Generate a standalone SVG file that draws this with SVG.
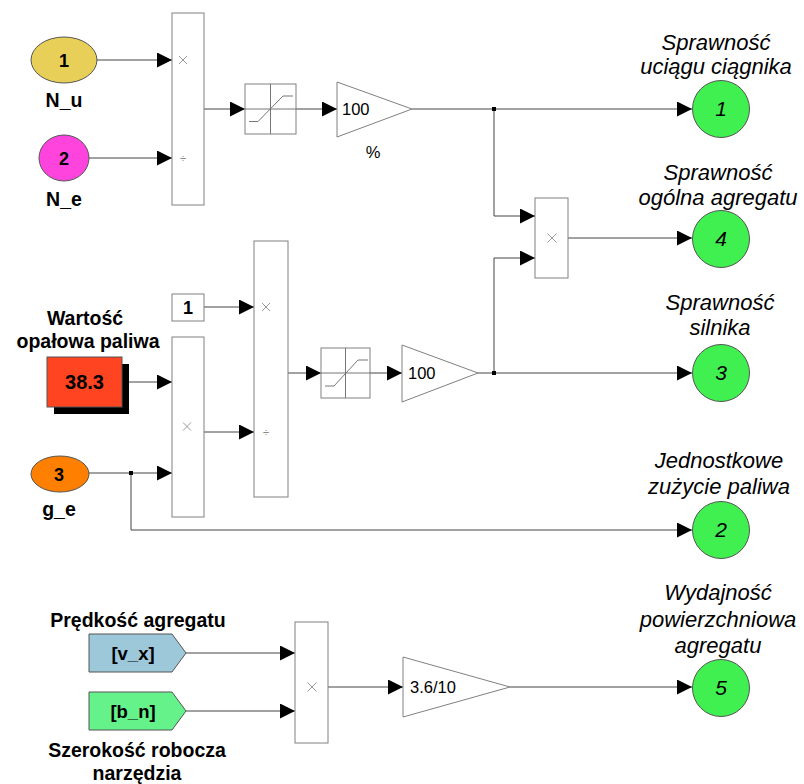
<svg xmlns="http://www.w3.org/2000/svg" width="804" height="784" viewBox="0 0 804 784">
  <defs>
    <marker id="arr" viewBox="0 0 15 15" refX="15" refY="7.5" markerWidth="15" markerHeight="15" orient="auto" markerUnits="userSpaceOnUse">
      <path d="M0,0 L15,7.5 L0,15 z" fill="#000"/>
    </marker>
    <style>
      .blk { fill: #fff; stroke: #808080; stroke-width: 1; }
      .port { stroke: #555; stroke-width: 1; }
      .wire { fill: none; stroke: #444; stroke-width: 1; }
      .glyph { fill: none; stroke: #999; stroke-width: 1; }
      .sat { fill: none; stroke: #777; stroke-width: 1; }
      .lblB { font-family: "Liberation Sans", Arial, sans-serif; font-weight: bold; font-size: 19.5px; fill: #000; text-anchor: middle; }
      .num { font-family: "Liberation Sans", Arial, sans-serif; font-weight: bold; font-size: 18px; fill: #000; text-anchor: middle; }
      .out { font-family: "Liberation Sans", Arial, sans-serif; font-style: italic; font-size: 22px; fill: #000; text-anchor: middle; }
      .outn { font-family: "Liberation Sans", Arial, sans-serif; font-style: italic; font-size: 21px; fill: #000; text-anchor: middle; }
      .gain { font-family: "Liberation Sans", Arial, sans-serif; font-size: 16.5px; fill: #000; }
      .div { font-family: "Liberation Sans", Arial, sans-serif; font-size: 11px; fill: #888; text-anchor: middle; }
      .outport { fill: #40F050; stroke: #555; stroke-width: 1; }
    </style>
  </defs>

  <!-- connectors -->
  <g id="connectors">
    <line class="wire" x1="97" y1="60" x2="172" y2="60" marker-end="url(#arr)"/>
    <line class="wire" x1="89" y1="158" x2="172" y2="158" marker-end="url(#arr)"/>
    <line class="wire" x1="204" y1="109" x2="245" y2="109" marker-end="url(#arr)"/>
    <line class="wire" x1="296" y1="109" x2="337" y2="109" marker-end="url(#arr)"/>
    <line class="wire" x1="412" y1="109" x2="692" y2="109" marker-end="url(#arr)"/>
    <polyline class="wire" points="494,109 494,216 535,216" marker-end="url(#arr)"/>
    <polyline class="wire" points="494,373 494,258 535,258" marker-end="url(#arr)"/>
    <line class="wire" x1="568" y1="238" x2="692" y2="238" marker-end="url(#arr)"/>
    <line class="wire" x1="204" y1="307" x2="254" y2="307" marker-end="url(#arr)"/>
    <line class="wire" x1="122" y1="382" x2="172" y2="382" marker-end="url(#arr)"/>
    <line class="wire" x1="89" y1="473" x2="172" y2="473" marker-end="url(#arr)"/>
    <polyline class="wire" points="131,473 131,530 692,530" marker-end="url(#arr)"/>
    <line class="wire" x1="204" y1="432" x2="254" y2="432" marker-end="url(#arr)"/>
    <line class="wire" x1="288" y1="373" x2="321" y2="373" marker-end="url(#arr)"/>
    <line class="wire" x1="370" y1="373" x2="402" y2="373" marker-end="url(#arr)"/>
    <line class="wire" x1="478" y1="373" x2="692" y2="373" marker-end="url(#arr)"/>
    <line class="wire" x1="186" y1="653" x2="295" y2="653" marker-end="url(#arr)"/>
    <line class="wire" x1="186" y1="711" x2="295" y2="711" marker-end="url(#arr)"/>
    <line class="wire" x1="328" y1="687" x2="403" y2="687" marker-end="url(#arr)"/>
    <line class="wire" x1="510" y1="687" x2="692" y2="687" marker-end="url(#arr)"/>
    <rect x="492" y="107" width="4" height="4" fill="#000"/>
    <rect x="492" y="371" width="4" height="4" fill="#000"/>
    <rect x="129" y="471" width="4" height="4" fill="#000"/>
  </g>

  <!-- inports -->
  <g id="in_N_u">
    <ellipse class="port" cx="64" cy="60" rx="33" ry="23" fill="#E8CF57"/>
    <text class="num" x="64" y="67">1</text>
    <text class="lblB" x="64" y="107">N_u</text>
  </g>
  <g id="in_N_e">
    <ellipse class="port" cx="64" cy="158" rx="25" ry="23" fill="#FF44DD"/>
    <text class="num" x="64" y="165">2</text>
    <text class="lblB" x="64" y="206">N_e</text>
  </g>
  <g id="in_g_e">
    <ellipse class="port" cx="60" cy="474" rx="29" ry="18" fill="#FF8000"/>
    <text class="num" x="59" y="481">3</text>
    <text class="lblB" x="59" y="516">g_e</text>
  </g>

  <!-- product N_u / N_e -->
  <g id="prod1">
    <rect class="blk" x="172" y="13" width="32" height="192"/>
    <path class="glyph" d="M179,56 L187,64 M187,56 L179,64"/>
    <text class="div" x="183" y="162">÷</text>
  </g>

  <!-- saturation 1 -->
  <g id="sat1">
    <rect class="blk" x="245" y="84" width="51" height="50"/>
    <path class="sat" d="M270.5,84 V134 M245,109 H296"/>
    <path class="sat" d="M249,121.5 H258 L283,96 H293" stroke="#555"/>
  </g>

  <!-- gain 100 % -->
  <g id="gain1">
    <polygon class="blk" points="337,82 412,109 337,137"/>
    <text class="gain" x="342" y="115">100</text>
    <text class="gain" x="373" y="158" text-anchor="middle">%</text>
  </g>

  <!-- product of efficiencies -->
  <g id="prod2">
    <rect class="blk" x="535" y="198" width="33" height="80"/>
    <path class="glyph" d="M547.5,233.5 L556.5,242.5 M556.5,233.5 L547.5,242.5"/>
  </g>

  <!-- constant 1 -->
  <g id="const1">
    <rect class="blk" x="172" y="294" width="32" height="27" stroke="#555"/>
    <text class="num" x="188" y="314">1</text>
  </g>

  <!-- constant 38.3 -->
  <g id="const_Wd">
    <text class="lblB" x="85" y="325">Wartość</text>
    <text class="lblB" x="88" y="348">opałowa paliwa</text>
    <rect x="54" y="364" width="75" height="50" fill="#000"/>
    <rect x="47" y="357" width="75" height="50" fill="#FF4422" stroke="#555"/>
    <text class="num" x="84.5" y="389" style="font-size:20px">38.3</text>
  </g>

  <!-- product 38.3 * g_e -->
  <g id="prod4">
    <rect class="blk" x="172" y="337" width="32" height="180"/>
    <path class="glyph" d="M183,422.5 L191,430.5 M191,422.5 L183,430.5"/>
  </g>

  <!-- product 1 / (...) -->
  <g id="prod3">
    <rect class="blk" x="254" y="241" width="34" height="256"/>
    <path class="glyph" d="M262,303 L270,311 M270,303 L262,311"/>
    <text class="div" x="266" y="436">÷</text>
  </g>

  <!-- saturation 2 -->
  <g id="sat2">
    <rect class="blk" x="321" y="348" width="49" height="50"/>
    <path class="sat" d="M345.5,348 V398 M321,373 H370"/>
    <path class="sat" d="M325,386 H334 L358,360 H368" stroke="#555"/>
  </g>

  <!-- gain 100 -->
  <g id="gain2">
    <polygon class="blk" points="402,345 478,373 402,402"/>
    <text class="gain" x="408" y="379">100</text>
  </g>

  <!-- goto / from tags -->
  <g id="from_v_x">
    <text class="lblB" x="138" y="627">Prędkość agregatu</text>
    <polygon class="port" points="89,634 172,634 186,653 172,672 89,672" fill="#9DC8DA"/>
    <text class="num" x="133" y="660" style="font-size:18.5px">[v_x]</text>
  </g>
  <g id="from_b_n">
    <polygon class="port" points="89,692 172,692 186,711 172,730 89,730" fill="#66F28A"/>
    <text class="num" x="133" y="718" style="font-size:18.5px">[b_n]</text>
    <text class="lblB" x="137" y="757">Szerokość robocza</text>
    <text class="lblB" x="137" y="780">narzędzia</text>
  </g>

  <!-- product v_x * b_n -->
  <g id="prod5">
    <rect class="blk" x="295" y="622" width="33" height="121"/>
    <path class="glyph" d="M307.5,682.5 L316.5,691.5 M316.5,682.5 L307.5,691.5"/>
  </g>

  <!-- gain 3.6/10 -->
  <g id="gain3">
    <polygon class="blk" points="403,657 510,687 403,717"/>
    <text class="gain" x="410" y="693">3.6/10</text>
  </g>

  <!-- outports -->
  <g id="out1">
    <text class="out" x="716" y="50">Sprawność</text>
    <text class="out" x="716" y="74">uciągu ciągnika</text>
    <circle class="outport" cx="721" cy="109" r="28.5"/>
    <text class="outn" x="721" y="116">1</text>
  </g>
  <g id="out4">
    <text class="out" x="718" y="180">Sprawność</text>
    <text class="out" x="718" y="205">ogólna agregatu</text>
    <circle class="outport" cx="721" cy="239" r="28.5"/>
    <text class="outn" x="721" y="246">4</text>
  </g>
  <g id="out3">
    <text class="out" x="720" y="310">Sprawność</text>
    <text class="out" x="720" y="335">silnika</text>
    <circle class="outport" cx="721" cy="373" r="28.5"/>
    <text class="outn" x="721" y="380">3</text>
  </g>
  <g id="out2">
    <text class="out" x="719" y="468">Jednostkowe</text>
    <text class="out" x="719" y="494">zużycie paliwa</text>
    <circle class="outport" cx="721" cy="530" r="28.5"/>
    <text class="outn" x="721" y="537">2</text>
  </g>
  <g id="out5">
    <text class="out" x="718" y="600">Wydajność</text>
    <text class="out" x="718" y="627">powierzchniowa</text>
    <text class="out" x="718" y="653">agregatu</text>
    <circle class="outport" cx="721" cy="688" r="28.5"/>
    <text class="outn" x="721" y="695">5</text>
  </g>
</svg>
